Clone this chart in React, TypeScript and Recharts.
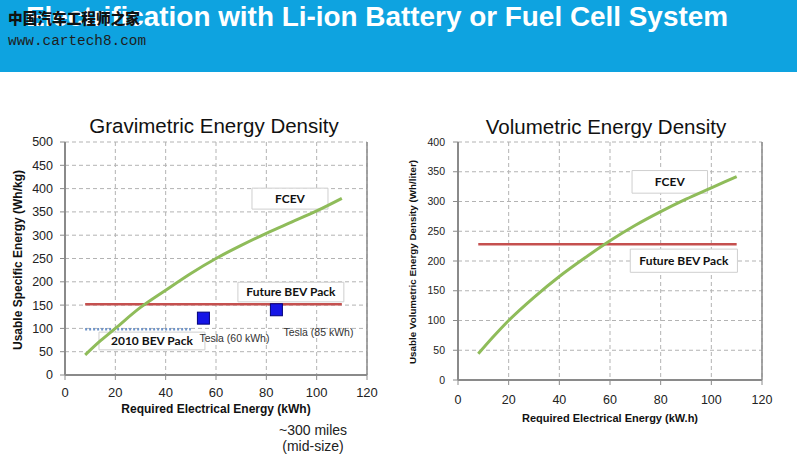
import React from "react";
import {
  ComposedChart,
  Line,
  Scatter,
  XAxis,
  YAxis,
  CartesianGrid,
  ReferenceArea,
  ReferenceLine,
  LabelList,
} from "recharts";

// x axis (kWh) shared by both panels
const xTicks = [0, 20, 40, 60, 80, 100, 120];
const gravTicks = [0, 50, 100, 150, 200, 250, 300, 350, 400, 450, 500];
const volTicks = [0, 50, 100, 150, 200, 250, 300, 350, 400];

// gravimetric panel (Wh/kg)
const fcevGravX = [8, 14, 20, 30, 40, 50, 60, 70, 80, 90, 100, 110];
const fcevGravY = [43, 73, 100, 145, 182, 218, 250, 278, 304, 328, 352, 379];
const futureGravX = [8, 110];
const futureGravY = [152, 152];
const bev2010X = [8, 50];
const bev2010Y = [98, 98];
const teslaX = [55, 84];
const teslaY = [122, 140];
const teslaLabels = ["Tesla (60 kWh)", "Tesla (85 kWh)"];

// volumetric panel (Wh/liter)
const fcevVolX = [8, 14, 20, 30, 40, 50, 60, 70, 80, 90, 100, 110];
const fcevVolY = [44, 73, 100, 139, 174, 205, 234, 260, 283, 304, 323, 342];
const futureVolX = [8, 110];
const futureVolY = [228, 228];

const pts = (xs: number[], ys: number[], extra?: string[]) =>
  xs.map((x, i) => ({ x, y: ys[i], label: extra ? extra[i] : undefined }));

const GREEN = "#8fbc5a";
const RED = "#c5504f";
const AXIS = "#8a8a8a";
const GRID = "#b3b3b3";
const FONT = "'Liberation Sans', Arial, sans-serif";

const boxLabel = (value: string) => ({
  value,
  position: "center" as const,
  fill: "#111",
  fontSize: 12,
  fontWeight: 700,
  fontFamily: "Lato, 'Open Sans', sans-serif",
});

function TeslaSquare(props: any) {
  const { cx, cy } = props;
  return <rect x={cx - 6} y={cy - 6} width={12} height={12} fill="#1515e6" stroke="#00007a" strokeWidth={1} />;
}

function TeslaLabel(props: any) {
  const { x, y, width, height, value, index } = props;
  const cx = x + (width || 0) / 2;
  const cy = y + (height || 0) / 2;
  // first label sits under its square, second to the lower right
  const dx = index === 0 ? -4 : 7;
  const dy = index === 0 ? 24 : 26;
  return (
    <text x={cx + dx} y={cy + dy} fill="#333" fontSize={10.5} fontFamily={FONT}>
      {value}
    </text>
  );
}

function GravChart() {
  return (
    <ComposedChart
      width={400}
      height={340}
      margin={{ top: 42, right: 33, left: 15, bottom: 35 }}
    >
      <CartesianGrid stroke={GRID} strokeDasharray="4 3" />
      <XAxis
        dataKey="x"
        type="number"
        domain={[0, 120]}
        ticks={xTicks}
        height={30}
        axisLine={{ stroke: AXIS, strokeWidth: 2 }}
        tickLine={{ stroke: AXIS }}
        tickSize={5}
        tickMargin={8}
        tick={{ fontSize: 13, fill: "#222", fontFamily: FONT }}
      />
      <YAxis
        dataKey="y"
        type="number"
        domain={[0, 500]}
        ticks={gravTicks}
        width={50}
        axisLine={{ stroke: AXIS, strokeWidth: 2 }}
        tickLine={{ stroke: AXIS }}
        tickSize={5}
        tickMargin={7}
        tick={{ fontSize: 12.5, fill: "#222", fontFamily: FONT }}
      />
      <ReferenceLine x={120} stroke={AXIS} strokeWidth={1.5} />
      <ReferenceArea x1={74.3} x2={104.5} y1={356} y2={401} fill="#fff" fillOpacity={1} stroke="#cfcfcf" label={boxLabel("FCEV")} />
      <ReferenceArea x1={68.7} x2={110.8} y1={157} y2={199} fill="#fff" fillOpacity={1} stroke="#cfcfcf" label={boxLabel("Future BEV Pack")} />
      <ReferenceArea x1={13.5} x2={55.6} y1={54} y2={92} fill="#fff" fillOpacity={1} stroke="#cfcfcf" label={boxLabel("2010 BEV Pack")} />
      <Line
        data={pts(bev2010X, bev2010Y)}
        dataKey="y"
        stroke="#6f94c8"
        strokeWidth={2.5}
        strokeDasharray="2 2"
        dot={false}
        isAnimationActive={false}
      />
      <Line
        data={pts(futureGravX, futureGravY)}
        dataKey="y"
        stroke={RED}
        strokeWidth={2.5}
        dot={false}
        isAnimationActive={false}
      />
      <Line
        data={pts(fcevGravX, fcevGravY)}
        dataKey="y"
        type="monotone"
        stroke={GREEN}
        strokeWidth={3}
        dot={false}
        isAnimationActive={false}
      />
      <Scatter
        data={pts(teslaX, teslaY, teslaLabels)}
        shape={<TeslaSquare />}
        isAnimationActive={false}
      >
        <LabelList dataKey="label" content={<TeslaLabel />} />
      </Scatter>
    </ComposedChart>
  );
}

function VolChart() {
  return (
    <ComposedChart
      width={400}
      height={340}
      margin={{ top: 42, right: 38, left: 13, bottom: 30 }}
    >
      <CartesianGrid stroke={GRID} strokeDasharray="4 3" />
      <XAxis
        dataKey="x"
        type="number"
        domain={[0, 120]}
        ticks={xTicks}
        height={30}
        axisLine={{ stroke: AXIS, strokeWidth: 2 }}
        tickLine={{ stroke: AXIS }}
        tickSize={5}
        tickMargin={10}
        tick={{ fontSize: 12.5, fill: "#222", fontFamily: FONT }}
      />
      <YAxis
        dataKey="y"
        type="number"
        domain={[0, 400]}
        ticks={volTicks}
        width={45}
        axisLine={{ stroke: AXIS, strokeWidth: 2 }}
        tickLine={{ stroke: AXIS }}
        tickSize={5}
        tickMargin={8}
        tick={{ fontSize: 10.5, fill: "#222", fontFamily: FONT }}
      />
      <ReferenceLine x={120} stroke={AXIS} strokeWidth={1.5} />
      <ReferenceArea x1={68.7} x2={98.5} y1={314} y2={352} fill="#fff" fillOpacity={1} stroke="#cfcfcf" label={boxLabel("FCEV")} />
      <ReferenceArea x1={68} x2={110.3} y1={181} y2={220} fill="#fff" fillOpacity={1} stroke="#cfcfcf" label={boxLabel("Future BEV Pack")} />
      <Line
        data={pts(futureVolX, futureVolY)}
        dataKey="y"
        stroke={RED}
        strokeWidth={2.5}
        dot={false}
        isAnimationActive={false}
      />
      <Line
        data={pts(fcevVolX, fcevVolY)}
        dataKey="y"
        type="monotone"
        stroke={GREEN}
        strokeWidth={3}
        dot={false}
        isAnimationActive={false}
      />
    </ComposedChart>
  );
}

export default function App() {
  return (
    <div
      style={{
        position: "absolute",
        left: 0,
        top: 0,
        width: 800,
        height: 463,
        background: "#fff",
        fontFamily: FONT,
        overflow: "hidden",
      }}
    >
      <div style={{ position: "absolute", left: 0, top: 100 }}>
        <GravChart />
      </div>
      <div style={{ position: "absolute", left: 400, top: 100 }}>
        <VolChart />
      </div>
      <svg
        width={800}
        height={463}
        style={{ position: "absolute", left: 0, top: 0, pointerEvents: "none" }}
      >
        <rect x={0} y={0} width={797} height={72} fill="#0ea3e0" />
        <text
          x={26}
          y={26}
          fill="#fff"
          fontSize={28}
          fontWeight={700}
          fontFamily={FONT}
          textLength={702}
          lengthAdjust="spacingAndGlyphs"
        >
          Electrification with Li-ion Battery or Fuel Cell System
        </text>
        <text
          x={8}
          y={24}
          fill="#111"
          fontSize={15}
          fontWeight={900}
          fontFamily="'Noto Sans CJK SC', sans-serif"
          textLength={132}
          lengthAdjust="spacingAndGlyphs"
        >
          中国汽车工程师之家
        </text>
        <text
          x={8}
          y={45}
          fill="#1e1e1e"
          fontSize={14}
          fontFamily="'Liberation Mono', monospace"
          textLength={138}
          lengthAdjust="spacingAndGlyphs"
        >
          www.cartech8.com
        </text>

        <text x={214} y={133} textAnchor="middle" fontSize={20.5} fill="#111" fontFamily={FONT}>
          Gravimetric Energy Density
        </text>
        <text x={606} y={134} textAnchor="middle" fontSize={20.5} fill="#111" fontFamily={FONT}>
          Volumetric Energy Density
        </text>

        <text
          transform="translate(22,260) rotate(-90)"
          textAnchor="middle"
          fontSize={12}
          fontWeight={700}
          fill="#111"
          fontFamily={FONT}
        >
          Usable Specific Energy (Wh/kg)
        </text>
        <text
          transform="translate(416,262) rotate(-90)"
          textAnchor="middle"
          fontSize={9.8}
          fontWeight={700}
          fill="#111"
          fontFamily={FONT}
        >
          Usable Volumetric Energy Density (Wh/liter)
        </text>

        <text x={216} y={413} textAnchor="middle" fontSize={12} fontWeight={700} fill="#111" fontFamily={FONT}>
          Required Electrical Energy (kWh)
        </text>
        <text x={610} y={422} textAnchor="middle" fontSize={11} fontWeight={700} fill="#111" fontFamily={FONT}>
          Required Electrical Energy (kW.h)
        </text>

        <text x={313} y={435} textAnchor="middle" fontSize={14} fill="#222" fontFamily={FONT}>
          ~300 miles
        </text>
        <text x={313} y={451} textAnchor="middle" fontSize={14} fill="#222" fontFamily={FONT}>
          (mid-size)
        </text>
      </svg>
    </div>
  );
}
